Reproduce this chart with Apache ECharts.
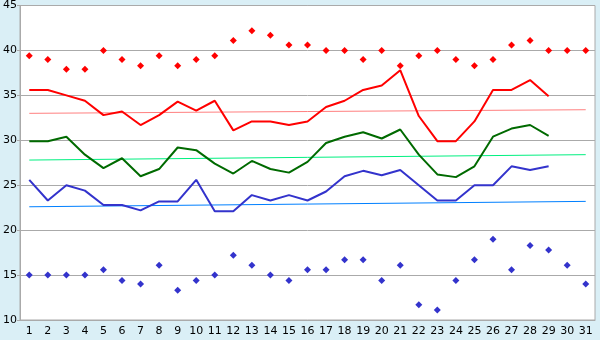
<!DOCTYPE html>
<html>
<head>
<meta charset="utf-8">
<script src="https://cdn.jsdelivr.net/npm/echarts@6/dist/echarts.min.js"></script>
<style>
    html, body { margin: 0; padding: 0; background: #daeff6; }
    #chart { width: 600px; height: 340px; }
</style>
</head>
<body>
<div id="chart"></div>
<script>
// days of month
const days = ['1','2','3','4','5','6','7','8','9','10','11','12','13','14','15','16','17','18','19','20','21','22','23','24','25','26','27','28','29','30','31']

// record highs (red diamonds)
const recordHigh = [39.4, 39.0, 37.9, 37.9, 40.0, 39.0, 38.3, 39.4, 38.3, 39.0, 39.4, 41.1, 42.2, 41.7, 40.6, 40.6, 40.0, 40.0, 39.0, 40.0, 38.3, 39.4, 40.0, 39.0, 38.3, 39.0, 40.6, 41.1, 40.0, 40.0, 40.0]

// daily highs (red line)
const highs = [35.6, 35.6, 35.0, 34.4, 32.8, 33.2, 31.7, 32.8, 34.3, 33.3, 34.4, 31.1, 32.1, 32.1, 31.7, 32.1, 33.7, 34.4, 35.6, 36.1, 37.8, 32.7, 29.9, 29.9, 32.1, 35.6, 35.6, 36.7, 34.9]

// daily means (green line)
const means = [29.9, 29.9, 30.4, 28.4, 26.9, 28.0, 26.0, 26.8, 29.2, 28.9, 27.4, 26.3, 27.7, 26.8, 26.4, 27.6, 29.7, 30.4, 30.9, 30.2, 31.2, 28.4, 26.2, 25.9, 27.1, 30.4, 31.3, 31.7, 30.5]

// daily lows (blue line)
const lows = [25.6, 23.3, 25.0, 24.4, 22.8, 22.8, 22.2, 23.2, 23.2, 25.6, 22.1, 22.1, 23.9, 23.3, 23.9, 23.3, 24.3, 26.0, 26.6, 26.1, 26.7, 25.0, 23.3, 23.3, 25.0, 25.0, 27.1, 26.7, 27.1]

// record lows (blue diamonds)
const recordLow = [15.0, 15.0, 15.0, 15.0, 15.6, 14.4, 14.0, 16.1, 13.3, 14.4, 15.0, 17.2, 16.1, 15.0, 14.4, 15.6, 15.6, 16.7, 16.7, 14.4, 16.1, 11.7, 11.1, 14.4, 16.7, 19.0, 15.6, 18.3, 17.8, 16.1, 14.0]

// normal trends: [first day, last day]
const highTrend = [33.0, 33.4]
const meanTrend = [27.8, 28.4]
const lowTrend = [22.6, 23.2]

const trendData = (t) => [[days[0], t[0]], [days[days.length - 1], t[1]]]

const chart = echarts.init(document.getElementById('chart'))

const lineSeries = (data, color) => ({
    type: 'line',
    data: data,
    symbol: 'none',
    lineStyle: { color: color, width: 2 },
    z: 3,
})

const trendSeries = (t, color) => ({
    type: 'line',
    data: trendData(t),
    symbol: 'none',
    lineStyle: { color: color, width: 1 },
    z: 2,
})

const dotSeries = (data, color) => ({
    type: 'scatter',
    data: data,
    symbol: 'diamond',
    symbolSize: 7,
    itemStyle: { color: color, opacity: 1 },
    z: 4,
})

chart.setOption({
    animation: false,
    backgroundColor: '#daeff6',
    textStyle: { fontFamily: 'DejaVu Sans' },
    grid: {
        left: 20, right: 5, top: 5, bottom: 20,
        show: true, backgroundColor: '#fff', borderColor: '#aaa', borderWidth: 1,
    },
    xAxis: {
        type: 'category',
        data: days,
        boundaryGap: true,
        axisLine: { lineStyle: { color: '#aaa' } },
        axisTick: { alignWithLabel: true, length: 5, lineStyle: { color: '#777' } },
        axisLabel: { color: '#000', fontSize: 11, margin: 6, interval: 0 },
    },
    yAxis: {
        type: 'value',
        min: 10, max: 45, interval: 5,
        axisLine: { show: true, lineStyle: { color: '#aaa' } },
        axisTick: { show: true, length: 3, lineStyle: { color: '#aaa' } },
        axisLabel: { color: '#000', fontSize: 11, margin: 3 },
        splitLine: { lineStyle: { color: '#aaa' } },
    },
    series: [
        trendSeries(highTrend, '#ff8080'),
        trendSeries(meanTrend, '#00f080'),
        trendSeries(lowTrend, '#0080ff'),
        lineSeries(highs, '#ff0000'),
        lineSeries(means, '#006a00'),
        lineSeries(lows, '#3333cc'),
        dotSeries(recordHigh, '#ff0000'),
        dotSeries(recordLow, '#3333cc'),
    ],
})
</script>
</body>
</html>
